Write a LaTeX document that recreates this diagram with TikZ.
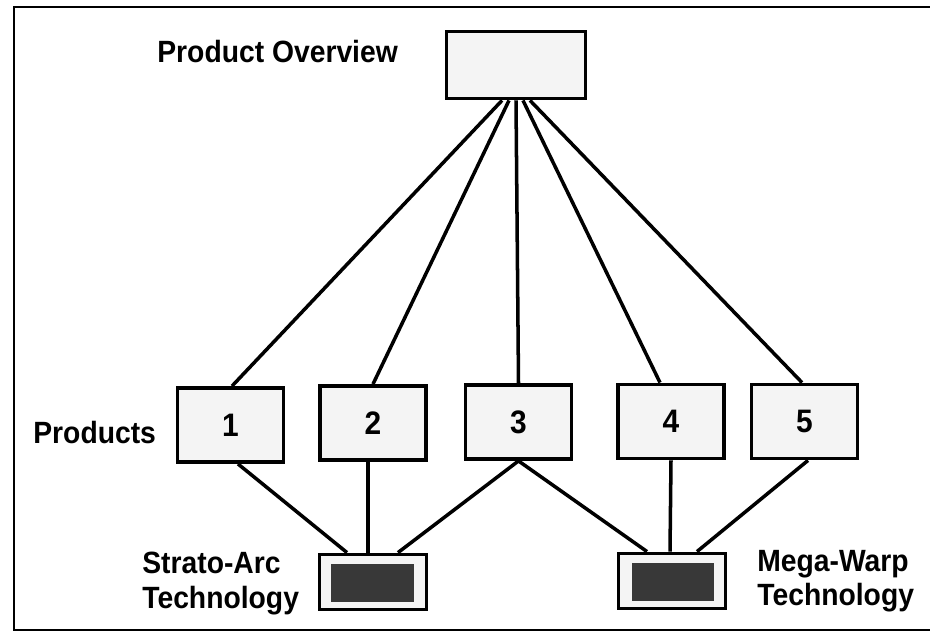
\documentclass[tikz,border=0pt]{standalone}
\usepackage{fontspec}
\setmainfont[FakeStretch=0.92]{Liberation Sans}
\begin{document}
\begin{tikzpicture}[x=0.02cm, y=-0.02cm,
    box/.style={draw, line width=2.2pt, fill=gray!9, minimum width=2.12cm, minimum height=1.48cm,
                font=\fontsize{18.5}{19}\selectfont\bfseries},
    techbox/.style={draw, line width=2.2pt, fill=gray!9, minimum width=2.14cm, minimum height=1.1cm},
    inner/.style={fill=black!78, minimum width=1.66cm, minimum height=0.76cm, inner sep=0pt},
    lbl/.style={inner sep=0pt, align=left, font=\fontsize{17.5}{19.5}\selectfont\bfseries},
    wire/.style={line width=2pt}]
    %cadre
    \useasboundingbox (0,0) rectangle (930,637);
    \draw[line width=1.2pt] (930,7) -- (14,7) -- (14,630) -- (930,630);

    \node[box, minimum width=2.78cm, minimum height=1.34cm] (top) at (516,65) {};
\node[lbl, anchor=west] at (157,52) {Product Overview};

    % produits
            \node[box] (p1) at (230.5,425) {1};
            \node[box] (p2) at (373,423) {2};
            \node[box] (p3) at (518.5,422) {3};
            \node[box] (p4) at (671,421.5) {4};
            \node[box] (p5) at (804.5,421.5) {5};
\node[lbl, anchor=west] at (33,432) {Products};

    % technologies
            \node[techbox] (sa) at (373,582) {};
            \node[inner] at (372.5,583) {};
            \node[techbox] (mw) at (672,581) {};
            \node[inner] at (673,582) {};
\node[lbl, anchor=north west] at (142,552) {Strato-Arc\\Technology};
\node[lbl, anchor=north west] at (757,550) {Mega-Warp\\Technology};

            \draw[wire] ([xshift=-0.28cm]top.south) -- ([xshift=0.03cm]p1.north);
            \draw[wire] ([xshift=-0.14cm]top.south) -- (p2.north);
            \draw[wire] (top.south) -- (p3.north);
            \draw[wire] ([xshift=0.14cm]top.south) -- ([xshift=-0.22cm]p4.north);
            \draw[wire] ([xshift=0.28cm]top.south) -- ([xshift=-0.05cm]p5.north);

            \draw[wire] ([xshift=0.15cm]p1.south) -- ([xshift=-0.52cm]sa.north);
            \draw[wire] ([xshift=-0.1cm]p2.south) -- ([xshift=-0.1cm]sa.north);
            \draw[wire] (p3.south) -- ([xshift=0.5cm]sa.north);
            \draw[wire] (p3.south) -- ([xshift=-0.5cm]mw.north);
            \draw[wire] (p4.south) -- ([xshift=-0.04cm]mw.north);
            \draw[wire] ([xshift=0.07cm]p5.south) -- ([xshift=0.5cm]mw.north);
  \end{tikzpicture}
\end{document}
